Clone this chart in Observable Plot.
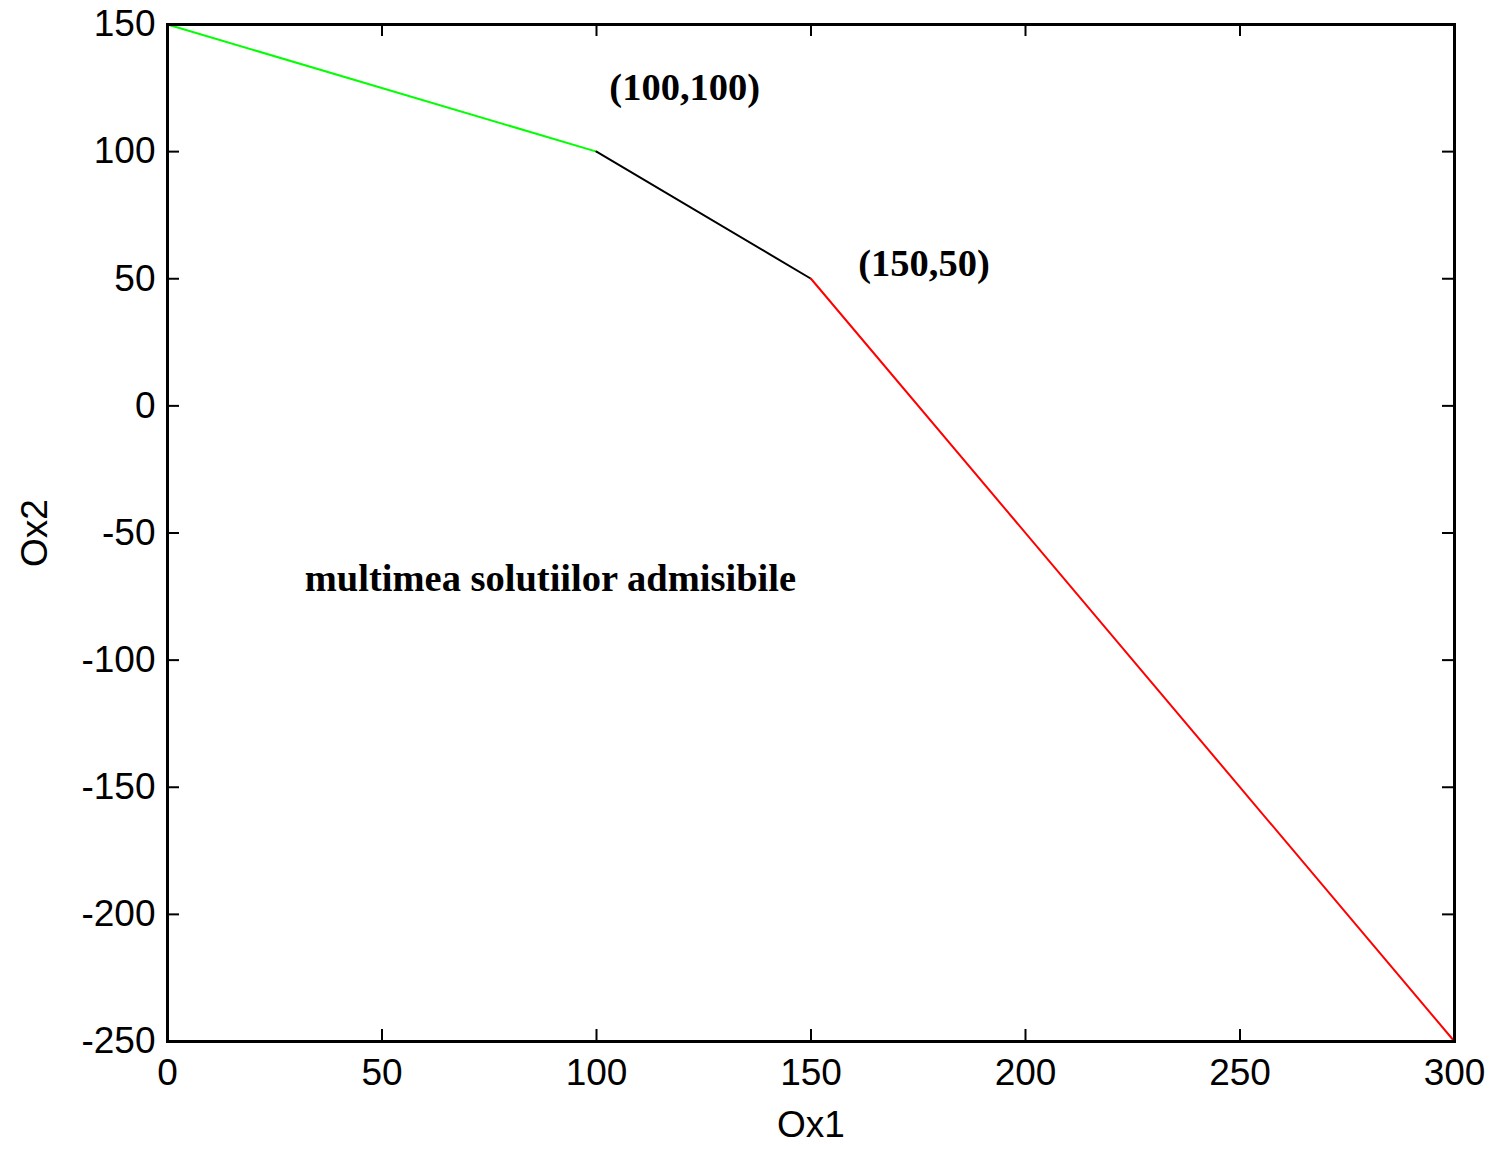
<!DOCTYPE html>
<html>
<head>
<meta charset="utf-8">
<script src="https://cdn.jsdelivr.net/npm/d3@7"></script>
<script src="https://cdn.jsdelivr.net/npm/@observablehq/plot@0.6"></script>
<style>
  html, body { margin: 0; padding: 0; background: #fff; }
  #chart svg { display: block; }
</style>
</head>
<body>
<div id="chart"></div>
<script>
// Vertices of the boundary of the feasible region (Ox1, Ox2)
const vertexX = [0, 100, 150, 300];
const vertexY = [150, 100, 50, -250];
// Colour of each boundary segment between consecutive vertices
const segmentColors = ["#00ff00", "#000000", "#ff0000"];

// Tick values
const xTicks = [0, 50, 100, 150, 200, 250, 300];
const yTicks = [-250, -200, -150, -100, -50, 0, 50, 100, 150];

// Annotations (anchored in data coordinates)
const noteTexts = ["(100,100)", "(150,50)", "multimea solutiilor admisibile"];
const noteX = [103, 161, 32];
const noteY = [125, 56, -68];

const W = 1494, H = 1150;
const mL = 167, mR = 40, mT = 24, mB = 109;
const plotW = W - mL - mR, plotH = H - mT - mB;
const tickLen = 12;

// One small table per segment
const segments = segmentColors.map((color, i) => ({
  color,
  points: [
    {x: vertexX[i], y: vertexY[i]},
    {x: vertexX[i + 1], y: vertexY[i + 1]}
  ]
}));

const notes = noteTexts.map((t, i) => ({text: t, x: noteX[i], y: noteY[i]}));

const font = "'Liberation Sans', Arial, sans-serif";
// plain hyphen for negative numbers
const fmt = d => String(d);

const chart = Plot.plot({
  width: W,
  height: H,
  marginLeft: mL,
  marginRight: mR,
  marginTop: mT,
  marginBottom: mB,
  style: {background: "#fff", color: "#000", fontFamily: font},
  x: {domain: [0, 300]},
  y: {domain: [-250, 150]},
  marks: [
    // tick labels
    Plot.axisX(xTicks, {tickSize: 0, tickPadding: 17, fontSize: 37, label: null, fill: "#000", tickFormat: fmt}),
    Plot.axisY(yTicks, {tickSize: 0, tickPadding: 12, fontSize: 37, label: null, fill: "#000", tickFormat: fmt}),
    // inward ticks on all four sides
    Plot.tickX(xTicks, {x: d => d, insetTop: plotH - tickLen, stroke: "#000", strokeWidth: 2}),
    Plot.tickX(xTicks, {x: d => d, insetBottom: plotH - tickLen, stroke: "#000", strokeWidth: 2}),
    Plot.tickY(yTicks, {y: d => d, insetRight: plotW - tickLen, stroke: "#000", strokeWidth: 2}),
    Plot.tickY(yTicks, {y: d => d, insetLeft: plotW - tickLen, stroke: "#000", strokeWidth: 2}),
    // boundary segments
    ...segments.map(s => Plot.line(s.points, {x: "x", y: "y", stroke: s.color, strokeWidth: 2})),
    // annotations
    Plot.text(notes, {
      x: "x", y: "y", text: "text",
      textAnchor: "start", lineAnchor: "middle",
      fontFamily: "'Liberation Serif', 'Times New Roman', serif",
      fontWeight: "bold", fontSize: 38.5, fill: "#000"
    }),
    // axis titles
    Plot.text(["Ox1"], {text: d => d, frameAnchor: "bottom", dy: 84, lineAnchor: "middle", fontSize: 37, fill: "#000"}),
    Plot.text(["Ox2"], {text: d => d, frameAnchor: "left", dx: -132, dy: 34, rotate: -90, lineAnchor: "middle", fontSize: 37, fill: "#000"}),
    Plot.frame({stroke: "#000", strokeWidth: 3})
  ]
});

document.getElementById("chart").appendChild(chart);
</script>
</body>
</html>
